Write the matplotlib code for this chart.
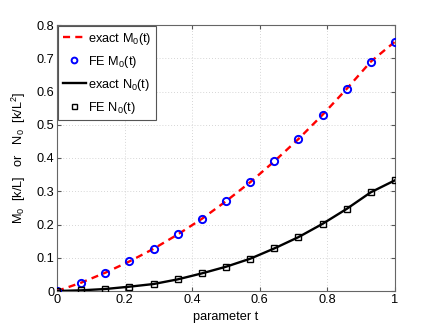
import matplotlib
matplotlib.use("Agg")
import matplotlib.pyplot as plt
import numpy as np

plt.rcParams['font.family'] = ['Liberation Sans', 'DejaVu Sans']
plt.rcParams['mathtext.fontset'] = 'custom'
plt.rcParams['mathtext.rm'] = 'Liberation Sans'
plt.rcParams['mathtext.it'] = 'Liberation Sans'

# data (t = k/14)
t = [0, 1/14, 2/14, 3/14, 4/14, 5/14, 6/14, 7/14, 8/14, 9/14, 10/14, 11/14, 12/14, 13/14, 1.0]
M0 = [0.0, 0.025, 0.055, 0.089, 0.127, 0.170, 0.217, 0.270, 0.327, 0.390, 0.457, 0.530, 0.608, 0.690, 0.750]
N0 = [0.0, 0.002, 0.006, 0.013, 0.021, 0.035, 0.053, 0.073, 0.097, 0.128, 0.162, 0.202, 0.247, 0.297, 0.333]
xticks = [0, 0.2, 0.4, 0.6, 0.8, 1]
xticklabels = ['0', '0.2', '0.4', '0.6', '0.8', '1']
yticks = [0, 0.1, 0.2, 0.3, 0.4, 0.5, 0.6, 0.7, 0.8]
yticklabels = ['0', '0.1', '0.2', '0.3', '0.4', '0.5', '0.6', '0.7', '0.8']

FS = 9.2

fig = plt.figure(figsize=(4.36, 3.27), dpi=100)
ax = fig.add_axes([57/436, 36/327, 338/436, 266/327])

ax.plot(t, M0, color='red', lw=1.7, ls=(0, (3, 2.2)), label='exact M$_0$(t)', zorder=3)
ax.plot(t, M0, ls='none', marker='o', ms=5.2, mfc='none', mec='blue', mew=1.4, label='FE M$_0$(t)', zorder=4)
ax.plot(t, N0, color='black', lw=1.7, label='exact N$_0$(t)', zorder=3)
ax.plot(t, N0, ls='none', marker='s', ms=4.5, mfc='none', mec='black', mew=1.0, label='FE N$_0$(t)', zorder=4)

ax.set_xlim(0, 1)
ax.set_ylim(0, 0.8)
ax.set_xticks(xticks)
ax.set_xticklabels(xticklabels)
ax.set_yticks(yticks)
ax.set_yticklabels(yticklabels)
ax.tick_params(direction='in', top=True, right=True, labelsize=FS, length=3, color='#555555', pad=2)
for s in ax.spines.values():
    s.set_color('#666666')
    s.set_linewidth(0.8)
ax.grid(True, ls=(0, (1, 2.5)), color='#c8c8c8', lw=0.6)
ax.set_axisbelow(True)

ax.set_xlabel('parameter t', fontsize=FS, labelpad=4)
ax.set_ylabel('M$_0$  [k/L]   or   N$_0$  [k/L$^2$]', fontsize=FS, labelpad=6)

leg = ax.legend(loc='upper left', fontsize=FS, handlelength=1.8, handletextpad=0.2,
                borderaxespad=0.1, borderpad=0.35, labelspacing=0.55, fancybox=False,
                framealpha=1, edgecolor='#555555', markerscale=0.8)
leg.get_frame().set_linewidth(0.8)

fig.savefig('out.png', dpi=100)
